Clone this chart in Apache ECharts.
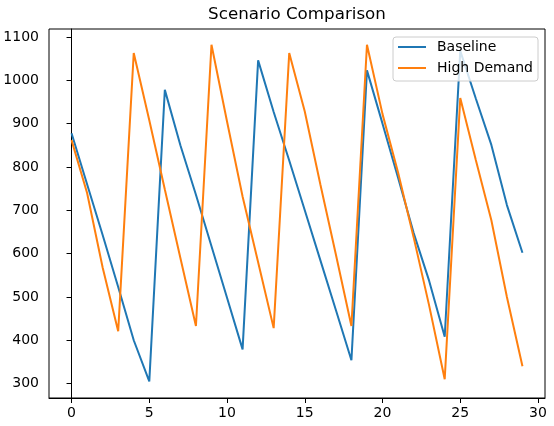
<!DOCTYPE html>
<html>
<head>
<meta charset="utf-8">
<title>Scenario Comparison</title>
<script src="https://cdn.jsdelivr.net/npm/echarts@6/dist/echarts.min.js"></script>
<style>
    html, body {margin: 0; padding: 0; background: #fff;}
    #main {width: 554px; height: 426px;}
</style>
</head>
<body>
<div id="main"></div>
<script>
var xValues = [0, 1, 2, 3, 4, 5, 6, 7, 8, 9, 10, 11, 12, 13, 14,
    15, 16, 17, 18, 19, 20, 21, 22, 23, 24, 25, 26, 27, 28, 29];
var baseline = [878, 760, 643, 523, 400, 305, 978, 850, 736, 617, 498, 379, 1046, 927, 815,
    700, 585, 470, 354, 1023, 900, 775, 648, 537, 408, 1068, 958, 851, 712, 602];
var highDemand = [862, 740, 568, 421, 1063, 908, 748, 590, 433, 1082, 905, 732, 580, 428, 1063,
    928, 760, 598, 433, 1082, 922, 787, 638, 480, 310, 959, 816, 677, 500, 340];
var seriesNames = ['Baseline', 'High Demand'];
var xTicks = [0, 5, 10, 15, 20, 25, 30];
var yTicks = [300, 400, 500, 600, 700, 800, 900, 1000, 1100];

var FONT = 'DejaVu Sans';

function toPairs(values) {
    var pairs = [];
    for (var i = 0; i < values.length; i++) {
        pairs.push([xValues[i], values[i]]);
    }
    return pairs;
}

function axisStyle(ticks, min, max, margin) {
    return {
        type: 'value',
        min: min,
        max: max,
        splitLine: {show: false},
        axisLine: {show: true, lineStyle: {color: '#000', width: 1}},
        axisTick: {
            show: true,
            inside: false,
            length: 5,
            customValues: ticks,
            lineStyle: {color: '#000', width: 1}
        },
        axisLabel: {
            customValues: ticks,
            margin: margin,
            color: '#000',
            fontSize: 14,
            fontFamily: FONT,
            // plain numbers, no thousands separator
            formatter: function (v) {
                return String(v);
            }
        }
    };
}

function drawChart() {
    var dom = document.getElementById("main");
    var myChart = echarts.init(dom, null, {renderer: 'canvas'});
    var option = {
        animation: false,
        backgroundColor: '#fff',
        title: {
            text: 'Scenario Comparison',
            left: 297,
            top: 6,
            padding: 0,
            textAlign: 'center',
            textStyle: {
                color: '#000',
                fontSize: 16.7,
                fontWeight: 'normal',
                fontFamily: FONT
            }
        },
        legend: {
            data: seriesNames,
            orient: 'vertical',
            right: 16,
            top: 37,
            icon: 'rect',
            itemWidth: 28,
            itemHeight: 2,
            itemGap: 7,
            padding: [3, 5, 6, 5],
            backgroundColor: 'rgba(255,255,255,0.8)',
            borderColor: '#cccccc',
            borderWidth: 1,
            borderRadius: 3,
            textStyle: {
                color: '#000',
                fontSize: 14,
                lineHeight: 14,
                fontFamily: FONT,
                padding: [0, 0, 0, 6]
            }
        },
        grid: {
            left: 49,
            top: 29,
            right: 9,
            bottom: 28,
            containLabel: false,
            outerBoundsMode: 'none',
            show: true,
            borderColor: '#000',
            borderWidth: 1
        },
        xAxis: axisStyle(xTicks, -1.45, 30.45, 8),
        yAxis: axisStyle(yTicks, 266.7, 1118.5, 10),
        series: [
            {
                name: seriesNames[0],
                type: 'line',
                data: toPairs(baseline),
                showSymbol: false,
                symbol: 'none',
                color: '#1f77b4',
                lineStyle: {color: '#1f77b4', width: 2}
            },
            {
                name: seriesNames[1],
                type: 'line',
                data: toPairs(highDemand),
                showSymbol: false,
                symbol: 'none',
                color: '#ff7f0e',
                lineStyle: {color: '#ff7f0e', width: 2}
            }
        ]
    };
    myChart.setOption(option, true);
}

drawChart();
</script>
</body>
</html>
